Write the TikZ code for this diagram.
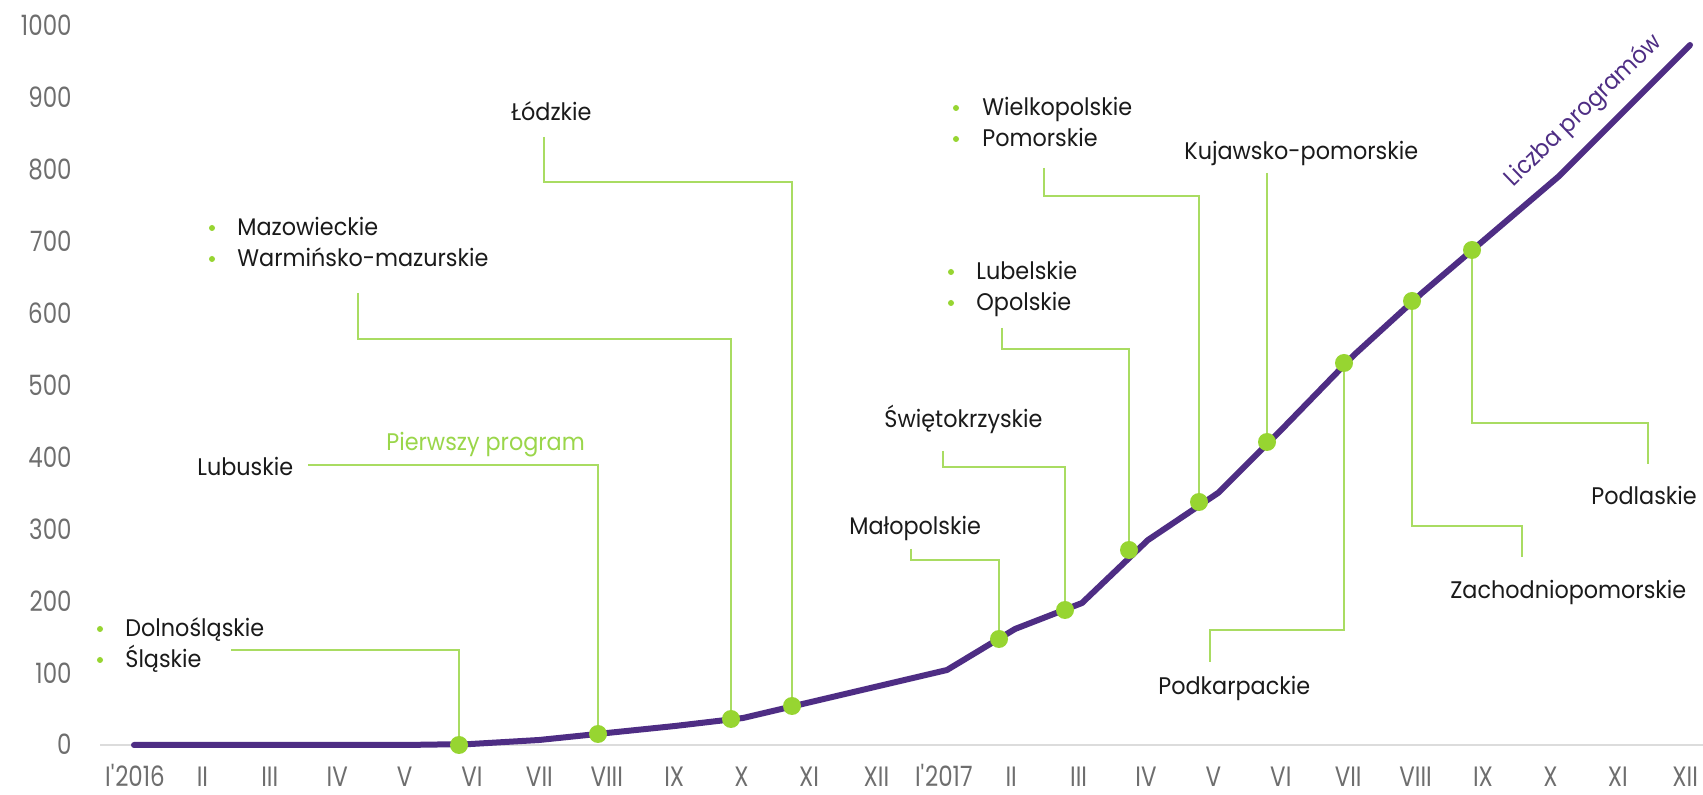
\documentclass[tikz,border=0pt]{standalone}
\usepackage{fontspec}
\setmainfont{Poppins}[FakeStretch=0.93]
\newfontfamily\axisfont{Poppins}[FakeStretch=0.82]
\definecolor{purp}{HTML}{4E2D84}
\definecolor{dgreen}{HTML}{97D531}
\definecolor{lgreen}{HTML}{A9DC62}
\definecolor{tgreen}{HTML}{9AD64A}
\definecolor{txt}{HTML}{1A1A1A}
\definecolor{axgrey}{HTML}{6E6E6E}
\definecolor{basegrey}{HTML}{DCDCDC}
\begin{document}
\begin{tikzpicture}[x=0.5pt,y=-0.5pt,
  lbl/.style={font=\fontsize{12}{14}\selectfont, text=txt, inner sep=0pt, anchor=base west},
  glbl/.style={lbl, text=tgreen},
  ylab/.style={font=\axisfont\fontsize{14}{16}\selectfont, text=axgrey, inner sep=0pt, anchor=base east},
  xlab/.style={font=\axisfont\fontsize{14}{16}\selectfont, text=axgrey, inner sep=0pt, anchor=base},
  conn/.style={draw=lgreen, line width=1pt},
  dotn/.style={circle, fill=dgreen, minimum size=9pt, inner sep=0pt},
  bul/.style={circle, fill=dgreen, minimum size=3pt, inner sep=0pt},
  curve/.style={draw=purp, line width=3pt, line cap=round, line join=round}]
\useasboundingbox (0,0) rectangle (1703,795);
\fill[white] (0,0) rectangle (1703,795);

% axes
\draw[basegrey, line width=1pt] (100,745) -- (1703,745);
\foreach \v in {0,100,...,1000}
  \node[ylab] (y\v) at (72,{755-0.719*\v}) {\v};
\foreach \m [count=\i from 0] in {I\textquotesingle2016,II,III,IV,V,VI,VII,VIII,IX,X,XI,XII,I\textquotesingle2017,II,III,IV,V,VI,VII,VIII,IX,X,XI,XII}
  \node[xlab] (x\i) at ({135+67.4*\i},787) {\m};

% curve
\draw[curve] (134,745) -- (404,745) -- (471,744) -- (539,740) -- (607,733) -- (675,726)
  -- (743,718) -- (811,702) -- (879,686) -- (947,670) -- (1015,629) -- (1082,603)
  -- (1148,540) -- (1218,493) -- (1286,425) -- (1354,355) -- (1422,293) -- (1490,235)
  -- (1558,177) -- (1690,45);
\node[font=\fontsize{12}{14}\selectfont, text=purp, rotate=44, inner sep=0pt] (liczba) at (1584,111) {Liczba programów};

% dots (coordinates)
\coordinate (d1) at (459,745);
\coordinate (d2) at (598,734);
\coordinate (d3) at (731,719);
\coordinate (d4) at (792,706);
\coordinate (d5) at (999,639);
\coordinate (d6) at (1065,610);
\coordinate (d7) at (1129,550);
\coordinate (d8) at (1199,502);
\coordinate (d9) at (1267,442);
\coordinate (d10) at (1344,363);
\coordinate (d11) at (1412,301);
\coordinate (d12) at (1472,250);

% labels
\node[bul] (b1a) at (100,629) {};
\node[bul] (b1b) at (100,660) {};
\node[lbl] (l1a) at (125,637) {Dolnośląskie};
\node[lbl] (l1b) at (125,668) {Śląskie};
\coordinate (c1) at (231,650);

\node[lbl] (l2) at (197,476) {Lubuskie};
\node[glbl] (pierwszy) at (386,451) {Pierwszy program};
\coordinate (c2) at (308,465);

\node[bul] (b3a) at (212,228) {};
\node[bul] (b3b) at (212,259) {};
\node[lbl] (l3a) at (237,236) {Mazowieckie};
\node[lbl] (l3b) at (237,267) {Warmińsko-mazurskie};
\coordinate (c3) at (358,293);
\coordinate (k3) at (358,339);

\node[lbl] (l4) at (511,121) {Łódzkie};
\coordinate (c4) at (544,137);
\coordinate (k4) at (544,182);

\node[lbl] (l5) at (849,535) {Małopolskie};
\coordinate (c5) at (911,549);
\coordinate (k5) at (911,560);

\node[lbl] (l6) at (884,428) {Świętokrzyskie};
\coordinate (c6) at (943,451);
\coordinate (k6) at (943,467);

\node[bul] (b7a) at (951,272) {};
\node[bul] (b7b) at (951,303) {};
\node[lbl] (l7a) at (976,280) {Lubelskie};
\node[lbl] (l7b) at (976,311) {Opolskie};
\coordinate (c7) at (1002,328);
\coordinate (k7) at (1002,349);

\node[bul] (b8a) at (956,108) {};
\node[bul] (b8b) at (956,139) {};
\node[lbl] (l8a) at (982,116) {Wielkopolskie};
\node[lbl] (l8b) at (982,147) {Pomorskie};
\coordinate (c8) at (1044,168);
\coordinate (k8) at (1044,196);

\node[lbl] (l9) at (1184,160) {Kujawsko-pomorskie};
\coordinate (c9) at (1267,173);

\node[lbl] (l10) at (1158,695) {Podkarpackie};
\coordinate (c10) at (1210,662);
\coordinate (k10) at (1210,630);

\node[lbl] (l11) at (1450,599) {Zachodniopomorskie};
\coordinate (c11) at (1522,557);
\coordinate (k11) at (1522,526);

\node[lbl] (l12) at (1591,505) {Podlaskie};
\coordinate (c12) at (1648,464);
\coordinate (k12) at (1648,423);

% connectors
\draw[conn] (c1) -| (d1);
\draw[conn] (c2) -| (d2);
\draw[conn] (c3) -- (k3) -| (d3);
\draw[conn] (c4) -- (k4) -| (d4);
\draw[conn] (c5) -- (k5) -| (d5);
\draw[conn] (c6) -- (k6) -| (d6);
\draw[conn] (c7) -- (k7) -| (d7);
\draw[conn] (c8) -- (k8) -| (d8);
\draw[conn] (c9) -- (d9);
\draw[conn] (c10) -- (k10) -| (d10);
\draw[conn] (c11) -- (k11) -| (d11);
\draw[conn] (c12) -- (k12) -| (d12);

% dots on top
\foreach \d in {d1,d2,d3,d4,d5,d6,d7,d8,d9,d10,d11,d12}
  \node[dotn] (n\d) at (\d) {};
\end{tikzpicture}
\end{document}
